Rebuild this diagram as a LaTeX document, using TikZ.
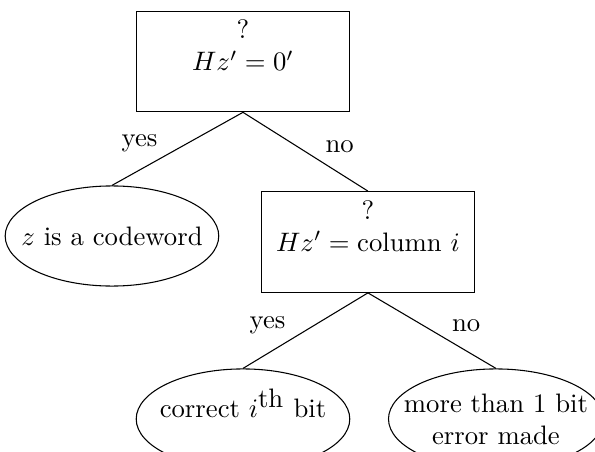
\documentclass[tikz,border=0pt]{standalone}
\usepackage{tikz}
\usetikzlibrary{shapes.geometric}
\usepackage{amsmath,amssymb,amsfonts}

\begin{document}
\begin{tikzpicture}[
  question/.style={draw,rectangle,align=center,minimum width=80pt},
  leaf/.style={draw,ellipse,align=center,minimum width=80pt,minimum height=37.5pt,inner xsep=-6pt,inner ysep=0pt},
  lbl/.style={midway,yshift=2pt}]
\useasboundingbox (0,0) rectangle (7.833,5.950);

\node[question] (root) at (3.199,5.141) {?\\ $Hz'=0'$\\ \mbox{}};
\node[leaf] (code) at (1.474,2.843) {$z$ is a codeword};
\node[question] (col) at (4.844,2.764) {?\\ $Hz'=\text{column } i$\\ \mbox{}};
\node[leaf] (fix) at (3.199,0.434) {correct $i^{\mbox{th}}$ bit\\ \mbox{}};
\node[leaf] (more) at (6.529,0.434) {more than 1 bit\\ error made};

\draw (root.south)--(code.north) node[lbl,left,xshift=-4pt]{yes};
\draw (root.south)--(col.north) node[lbl,right,xshift=4pt]{no};
\draw (col.south)--(fix.north) node[lbl,left,xshift=-4pt]{yes};
\draw (col.south)--(more.north) node[lbl,right,xshift=4pt]{no};
\end{tikzpicture}
\end{document}
